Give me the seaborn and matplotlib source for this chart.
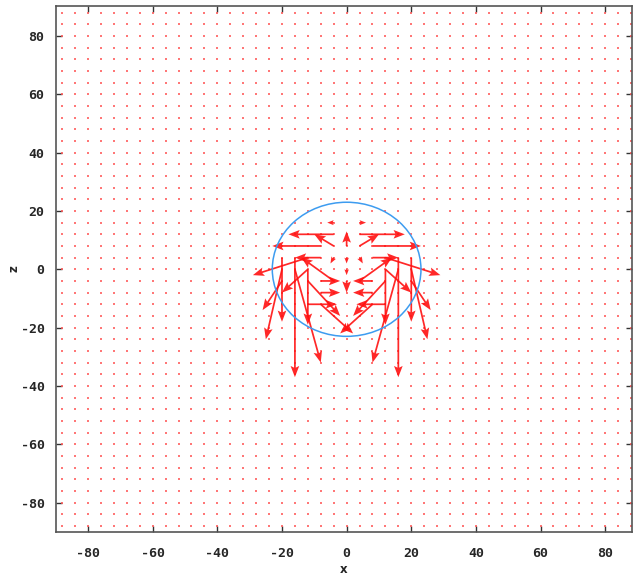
import numpy as np
import pandas as pd
import matplotlib
matplotlib.use("Agg")
import matplotlib.pyplot as plt
from matplotlib.patches import Circle
import seaborn as sns

# ---- data ----
grid_x = np.arange(-88, 89, 4)
grid_z = np.arange(-88, 89, 4)

# non-zero vectors: tail (x, z) and components (u, w)
tail_x = [-16, -20, -12, -16, -20, -20, -12, -4, -4, -8, -8, -4, -8, -8, -12, -12, -8, -4, -12, -4,
          16, 20, 12, 16, 20, 20, 12, 4, 4, 8, 8, 4, 8, 8, 12, 12, 8, 4, 12, 4,
          0, 0, 0, 0]
tail_z = [4, 4, 0, 0, 0, -4, 4, 12, 8, 8, 4, -4, -4, -8, -12, -4, -12, 16, 0, 4,
          4, 4, 0, 0, 0, -4, 4, 12, 8, 8, 4, -4, -4, -8, -12, -4, -12, 16, 0, 4,
          8, 4, 0, -4]
vec_u = [0, 0, 0, 8, -5, -6, -17, -14, -6, -15, -8, -10, 6, 6, 9, 10, 10, -2, -8, -1,
         0, 0, 0, -8, 5, 6, 17, 14, 6, 15, 8, 10, -6, -6, -9, -10, -10, 2, 8, 1,
         0, 0, 0, 0]
vec_w = [-41, -22, -19, -32, -24, -10, -6, 0, 4, 0, 0, 8, 0, 0, 0, -12, -10, 0, -8, -2,
         -41, -22, -19, -32, -24, -10, -6, 0, 4, 0, 0, 8, 0, 0, 0, -12, -10, 0, -8, -2,
         5, -2, -2, -4]

circle_radius = 23
ticks = [-80, -60, -40, -20, 0, 20, 40, 60, 80]

# ---- figure ----
sns.set_theme(style="white")
plt.rcParams["font.family"] = ["DejaVu Sans Mono", "DejaVu Sans"]

fig = plt.figure(figsize=(6.34, 5.79), dpi=100)
ax = fig.add_axes([0.0879, 0.0817, 0.9090, 0.9079])

gx, gz = np.meshgrid(grid_x, grid_z)
dots = pd.DataFrame({"x": gx.ravel(), "z": gz.ravel()})
sns.scatterplot(data=dots, x="x", y="z", ax=ax, marker="s", s=2.2,
                color="#ff5555", linewidth=0, alpha=0.8, legend=False, zorder=1)

ax.quiver(tail_x, tail_z, vec_u, vec_w, angles="xy", scale_units="xy", scale=1,
          color="#ff1010", alpha=0.9, width=0.003, headwidth=5, headlength=6.5,
          headaxislength=5.5, zorder=2)

ax.add_patch(Circle((0, 0), circle_radius, fill=False, edgecolor="#3d9cf0",
                    linewidth=1.1, zorder=3))

ax.set_xlim(-90, 88.3)
ax.set_ylim(-90, 90.3)
ax.set_xticks(ticks)
ax.set_yticks(ticks)
ax.set_xticklabels([str(t) for t in ticks], fontsize=9.5, fontweight="bold")
ax.set_yticklabels([str(t) for t in ticks], fontsize=9.5, fontweight="bold")
ax.tick_params(direction="in", length=4, width=1, color="#333333",
               top=True, right=True, bottom=True, left=True, pad=8)
ax.tick_params(axis="x", pad=11)
for s in ax.spines.values():
    s.set_color("#555555")
    s.set_linewidth(1.2)
    s.set_visible(True)

ax.set_xlabel("x", fontsize=8.5, fontweight="bold", family="DejaVu Sans", labelpad=2)
ax.set_ylabel("z", fontsize=8.5, fontweight="bold", family="DejaVu Sans", labelpad=0,
              rotation=90)

fig.savefig("out.png", dpi=100)
